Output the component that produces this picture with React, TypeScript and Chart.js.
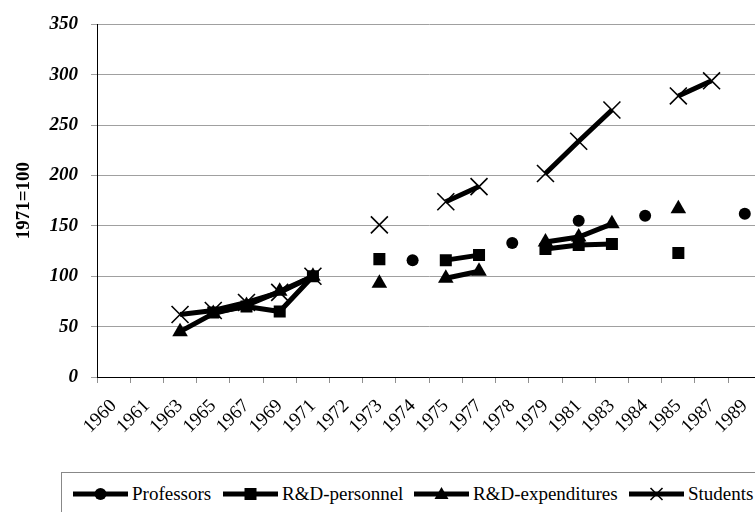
import React, { useEffect, useRef } from "react";
import { Chart, registerables } from "chart.js";

Chart.register(...registerables);

const years = ["1960", "1961", "1963", "1965", "1967", "1969", "1971", "1972", "1973", "1974", "1975", "1977", "1978", "1979", "1981", "1983", "1984", "1985", "1987", "1989"];

const professors = [null, null, null, null, null, null, null, null, null, 116, null, null, 133, null, 155, null, 160, null, null, 162];
const rdPersonnel = [null, null, null, 64, 70, 65, 100, null, 117, null, 116, 121, null, 127, 131, 132, null, 123, null, null];
const rdExpenditures = [null, null, 45, 63, 71, 85, 100, null, 93, null, 98, 105, null, 134, 139, 152, null, 167, null, null];
const students = [null, null, 62, 66, 74, 84, 100, null, 151, null, 174, 189, null, 202, 234, 265, null, 279, 294, null];

const seriesNames = ["Professors", "R&D-personnel", "R&D-expenditures", "Students"];
const yTicks = [0, 50, 100, 150, 200, 250, 300, 350];
const yTitle = "1971=100";

const SERIF = "Liberation Serif, Tinos, DejaVu Serif, serif";

function LegendIcon({ kind }: { kind: number }) {
  const cx = 27.5;
  const cy = 10;
  let marker: React.ReactNode = null;
  if (kind === 0) marker = <circle cx={cx} cy={cy} r={6} fill="#000" />;
  if (kind === 1) marker = <rect x={cx - 6} y={cy - 6} width={12} height={12} fill="#000" />;
  if (kind === 2) marker = <polygon points={`${cx},${cy - 7} ${cx + 7},${cy + 5} ${cx - 7},${cy + 5}`} fill="#000" />;
  if (kind === 3)
    marker = (
      <g stroke="#000" strokeWidth={1.6}>
        <line x1={cx - 6} y1={cy - 6} x2={cx + 6} y2={cy + 6} />
        <line x1={cx - 6} y1={cy + 6} x2={cx + 6} y2={cy - 6} />
      </g>
    );
  return (
    <svg width={55} height={20} style={{ display: "block" }}>
      <line x1={0} y1={cy} x2={55} y2={cy} stroke="#000" strokeWidth={5} strokeLinecap="round" />
      {marker}
    </svg>
  );
}

const legendLefts = [73, 223, 414, 629];

export default function App() {
  const ref = useRef<HTMLCanvasElement | null>(null);

  useEffect(() => {
    if (!ref.current) return;
    const common = {
      borderColor: "#000",
      backgroundColor: "#000",
      pointBackgroundColor: "#000",
      pointBorderColor: "#000",
      borderWidth: 5,
      spanGaps: false,
      tension: 0,
    };
    const chart = new Chart(ref.current, {
      type: "line",
      data: {
        labels: years,
        datasets: [
          { ...common, label: seriesNames[0], data: professors, pointStyle: "circle", pointRadius: 6, pointBorderWidth: 0 },
          { ...common, label: seriesNames[1], data: rdPersonnel, pointStyle: "rect", pointRadius: 8.5, pointBorderWidth: 0 },
          { ...common, label: seriesNames[2], data: rdExpenditures, pointStyle: "triangle", pointRadius: 9, pointBorderWidth: 0 },
          { ...common, label: seriesNames[3], data: students, pointStyle: "crossRot", pointRadius: 12, pointBorderWidth: 1.6 },
        ],
      },
      options: {
        animation: false,
        responsive: false,
        devicePixelRatio: 1,
        layout: { padding: { top: 15, right: 12, left: 0, bottom: 0 } },
        plugins: { legend: { display: false }, tooltip: { enabled: false } },
        scales: {
          x: {
            type: "category",
            offset: true,
            grid: { drawOnChartArea: false, color: "#909090", tickLength: 6, offset: true },
            border: { color: "#000", width: 1 },
            ticks: {
              autoSkip: false,
              maxRotation: 45,
              minRotation: 45,
              padding: 12,
              color: "#000",
              font: { family: SERIF, size: 19 },
            },
            afterFit: (s: any) => {
              s.height = 93;
            },
          },
          y: {
            min: 0,
            max: 350,
            afterBuildTicks: (s: any) => {
              s.ticks = yTicks.map((v) => ({ value: v }));
            },
            grid: { color: "#a0a0a0", tickLength: 6 },
            border: { color: "#000", width: 1 },
            ticks: {
              padding: 13,
              color: "#000",
              font: { family: SERIF, size: 19, weight: "bold", style: "italic" },
            },
            title: {
              display: true,
              text: yTitle,
              color: "#000",
              padding: { top: 13, bottom: 0 },
              font: { family: SERIF, size: 19, weight: "bold" },
            },
            afterFit: (s: any) => {
              s.width = 97;
            },
          },
        },
      },
    } as any);
    return () => chart.destroy();
  }, []);

  return (
    <div style={{ position: "fixed", left: 0, top: 0, width: 755, height: 512, overflow: "hidden", background: "#fff" }}>
      <canvas ref={ref} width={775} height={470} style={{ position: "absolute", left: 0, top: 0, width: 775, height: 470 }} />
      <div
        style={{
          position: "absolute",
          left: 61,
          top: 472,
          width: 760,
          height: 60,
          border: "1px solid #888",
          boxSizing: "border-box",
        }}
      />
      {seriesNames.map((name, i) => (
        <div
          key={name}
          style={{
            position: "absolute",
            left: legendLefts[i],
            top: 484,
            height: 20,
            display: "flex",
            alignItems: "center",
            whiteSpace: "nowrap",
            fontFamily: SERIF,
            fontSize: 19,
            color: "#000",
          }}
        >
          <LegendIcon kind={i} />
          <span style={{ marginLeft: 4, lineHeight: "20px" }}>{name}</span>
        </div>
      ))}
    </div>
  );
}
